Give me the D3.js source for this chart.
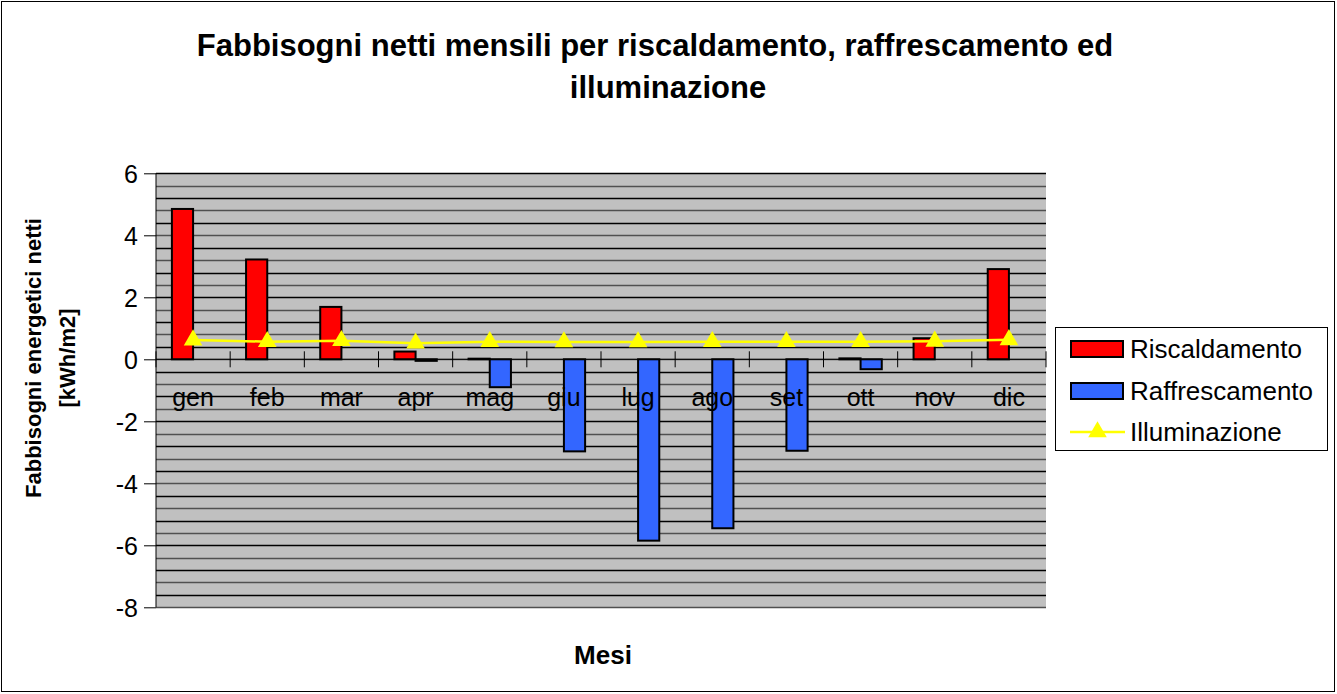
<!DOCTYPE html>
<html><head><meta charset="utf-8">
<script src="https://cdn.jsdelivr.net/npm/d3@7"></script>
<style>body{margin:0;background:#fff}svg{display:block;font-family:"Liberation Sans",Arial,sans-serif}</style>
</head><body>
<svg id="c" width="1337" height="694"></svg>
<script>
const months = ["gen","feb","mar","apr","mag","giu","lug","ago","set","ott","nov","dic"];
const riscaldamento = [4.85, 3.22, 1.69, 0.25, 0.02, 0, 0, 0, 0, 0.03, 0.68, 2.91];
const raffrescamento = [0, 0, 0, -0.05, -0.9, -2.97, -5.85, -5.45, -2.95, -0.32, 0, 0];
const illuminazione = [0.62, 0.57, 0.60, 0.52, 0.57, 0.56, 0.56, 0.57, 0.57, 0.57, 0.58, 0.63];
const yTicks = [-8, -6, -4, -2, 0, 2, 4, 6];
const seriesNames = ["Riscaldamento", "Raffrescamento", "Illuminazione"];

const svg = d3.select("#c");
svg.append("rect").attr("x",1.5).attr("y",1.5).attr("width",1333).attr("height",690)
  .attr("fill","#fff").attr("stroke","#000").attr("stroke-width",1);

const L = 156, R = 1046, T = 173.3, B = 607.3;
const y = d3.scaleLinear().domain([-8, 6]).range([B, T]);
const x = d3.scaleBand().domain(months).range([L, R]).padding(0);
const bw = x.bandwidth() / 3.5;

svg.append("rect").attr("x",L).attr("y",T).attr("width",R-L).attr("height",B-T).attr("fill","#C0C0C0");

// gridlines every 0.4
const grid = d3.range(-8, 6.001, 0.4).map(v => +v.toFixed(1));
svg.append("g").selectAll("line").data(grid).join("line")
  .attr("x1",L).attr("x2",R).attr("y1",d=>Math.round(y(d))+0.5).attr("y2",d=>Math.round(y(d))+0.5)
  .attr("stroke",(d,i)=> i%2 ? "#000" : "#505050").attr("stroke-width",1.3);

// y axis
const yAxis = d3.axisLeft(y).tickValues(yTicks).tickSize(12).tickFormat(d=>String(d));
const ga = svg.append("g").attr("transform",`translate(${L},0)`).call(yAxis);
ga.attr("font-size",null).attr("font-family",null);
ga.select(".domain").attr("stroke","#000").attr("d",`M0,${T}V${B}`);
ga.selectAll(".tick line").attr("stroke","#000");
ga.selectAll(".tick text").attr("font-size",25).attr("fill","#000").attr("x",-18).attr("dy","0.35em");

// bars
const bars = svg.append("g");
bars.selectAll("rect.r").data(riscaldamento).join("rect")
  .attr("x",(d,i)=>x(months[i]) + bw*0.75).attr("width",bw)
  .attr("y",d=>y(Math.max(0,d))).attr("height",d=>Math.abs(y(d)-y(0)))
  .attr("fill","#FF0000").attr("stroke","#000").attr("stroke-width",2);
bars.selectAll("rect.b").data(raffrescamento).join("rect")
  .attr("x",(d,i)=>x(months[i]) + bw*1.75).attr("width",bw)
  .attr("y",d=>y(Math.max(0,d))).attr("height",d=>Math.abs(y(d)-y(0)))
  .attr("fill","#3366FF").attr("stroke","#000").attr("stroke-width",2);

// x axis at 0
const xAxis = svg.append("g");
xAxis.append("line").attr("x1",L).attr("x2",R).attr("y1",y(0)).attr("y2",y(0)).attr("stroke","#000");
xAxis.selectAll("line.t").data(d3.range(months.length+1)).join("line")
  .attr("x1",i=>L + i*x.bandwidth()).attr("x2",i=>L + i*x.bandwidth())
  .attr("y1",y(0)-8).attr("y2",y(0)+8).attr("stroke","#000");
xAxis.selectAll("text").data(months).join("text")
  .attr("x",d=>x(d)+x.bandwidth()/2).attr("y",y(0)+47).attr("text-anchor","middle")
  .attr("font-size",25).text(d=>d);

// line
const cx = (d,i)=>x(months[i]) + x.bandwidth()/2;
svg.append("path").datum(illuminazione)
  .attr("d", d3.line().x(cx).y(d=>y(d)))
  .attr("fill","none").attr("stroke","#FFFF00").attr("stroke-width",2.5);
const tri = d3.symbol().type(d3.symbolTriangle).size(150);
svg.append("g").selectAll("path").data(illuminazione).join("path")
  .attr("d",tri).attr("transform",(d,i)=>`translate(${cx(d,i)},${y(d)})`).attr("fill","#FFFF00");

// title
const title = svg.append("text").attr("text-anchor","middle").attr("font-weight","bold").attr("font-size",31);
title.append("tspan").attr("x",655).attr("y",56).text("Fabbisogni netti mensili per riscaldamento, raffrescamento ed");
title.append("tspan").attr("x",668).attr("y",98).text("illuminazione");

// axis titles
svg.append("text").attr("x",603).attr("y",664).attr("text-anchor","middle").attr("font-weight","bold").attr("font-size",26).text("Mesi");
const yt = svg.append("text").attr("transform","translate(0,358) rotate(-90)").attr("text-anchor","middle").attr("font-weight","bold").attr("font-size",22);
yt.append("tspan").attr("x",0).attr("y",41).text("Fabbisogni energetici netti");
yt.append("tspan").attr("x",0).attr("y",75).text("[kWh/m2]");

// legend
const lg = svg.append("g");
lg.append("rect").attr("x",1055.5).attr("y",327.5).attr("width",272).attr("height",123).attr("fill","#fff").attr("stroke","#000");
const ly = [349, 391, 432];
seriesNames.forEach((n,i)=>{
  if (i < 2) {
    lg.append("rect").attr("x",1071).attr("y",ly[i]-8).attr("width",52).attr("height",16)
      .attr("fill", i===0 ? "#FF0000" : "#3366FF").attr("stroke","#000").attr("stroke-width",2);
  } else {
    lg.append("line").attr("x1",1070).attr("x2",1125).attr("y1",ly[i]).attr("y2",ly[i]).attr("stroke","#FFFF00").attr("stroke-width",2.5);
    lg.append("path").attr("d",tri).attr("transform",`translate(1097.5,${ly[i]})`).attr("fill","#FFFF00");
  }
  lg.append("text").attr("x",1130).attr("y",ly[i]+9).attr("font-size",26).text(n);
});
</script>
</body></html>
